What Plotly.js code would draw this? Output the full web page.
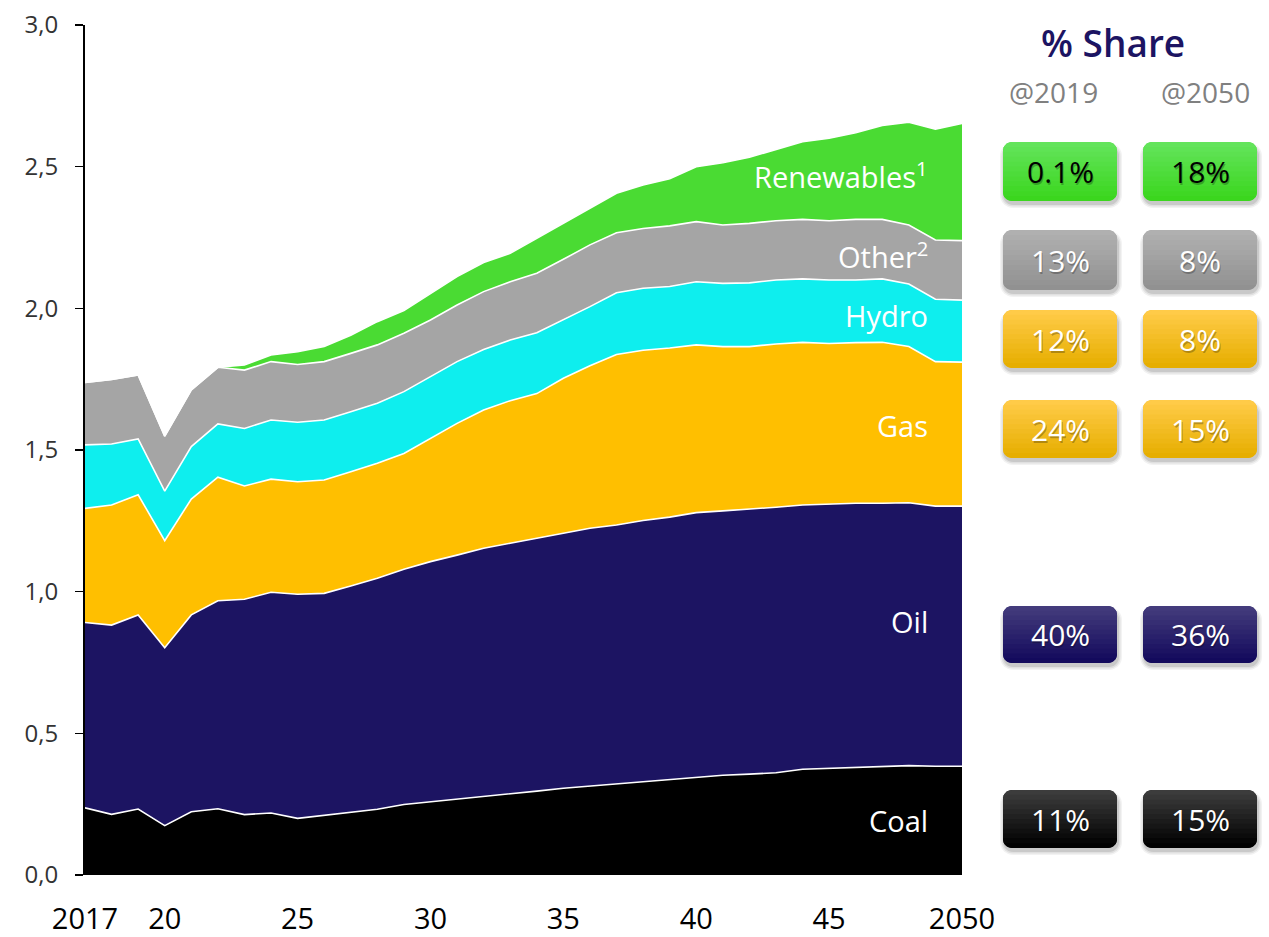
<!DOCTYPE html>
<html>
<head>
<meta charset="utf-8">
<script src="https://cdn.plot.ly/plotly-3.0.1.min.js"></script>
<style>html,body{margin:0;padding:0;background:#fff;}#chart{width:1269px;height:937px;}</style>
</head>
<body>
<div id="chart"></div>
<script>
// ---------- DATA ----------
const years = [2017,2018,2019,2020,2021,2022,2023,2024,2025,2026,2027,2028,2029,2030,2031,2032,2033,2034,2035,2036,2037,2038,2039,2040,2041,2042,2043,2044,2045,2046,2047,2048,2049,2050];
const coal = [0.237,0.214,0.233,0.174,0.223,0.234,0.213,0.219,0.200,0.210,0.220,0.232,0.249,0.258,0.267,0.276,0.286,0.296,0.306,0.314,0.321,0.329,0.338,0.345,0.352,0.356,0.361,0.373,0.376,0.379,0.382,0.386,0.384,0.384];
const oil = [0.654,0.668,0.685,0.628,0.695,0.734,0.760,0.779,0.791,0.784,0.800,0.815,0.830,0.848,0.862,0.877,0.885,0.892,0.900,0.910,0.914,0.922,0.925,0.934,0.933,0.935,0.937,0.933,0.933,0.933,0.930,0.928,0.918,0.918];
const gas = [0.403,0.424,0.424,0.378,0.409,0.436,0.400,0.399,0.397,0.400,0.403,0.406,0.409,0.435,0.465,0.488,0.503,0.511,0.547,0.573,0.602,0.601,0.597,0.592,0.580,0.574,0.576,0.574,0.567,0.567,0.568,0.551,0.510,0.508];
const hydro = [0.224,0.215,0.197,0.175,0.185,0.188,0.203,0.209,0.210,0.212,0.212,0.212,0.218,0.218,0.218,0.214,0.214,0.215,0.206,0.209,0.218,0.219,0.217,0.223,0.223,0.225,0.226,0.224,0.224,0.221,0.224,0.221,0.220,0.219];
const other = [0.220,0.228,0.226,0.194,0.200,0.200,0.206,0.206,0.204,0.206,0.206,0.206,0.206,0.200,0.200,0.204,0.206,0.210,0.214,0.218,0.212,0.211,0.214,0.212,0.206,0.210,0.209,0.210,0.209,0.214,0.210,0.208,0.209,0.210];
const renewables = [0,0,0,0,0,0,0.018,0.023,0.045,0.053,0.064,0.082,0.080,0.094,0.100,0.103,0.100,0.123,0.127,0.129,0.139,0.153,0.166,0.194,0.220,0.233,0.252,0.274,0.291,0.306,0.331,0.363,0.391,0.414];

const xTickVals = [2017,2020,2025,2030,2035,2040,2045,2050];
const xTickText = ['2017','20','25','30','35','40','45','2050'];
const yTickVals = [0,0.5,1,1.5,2,2.5,3];

const seriesNames = ['Coal','Oil','Gas','Hydro','Other','Renewables'];
const seriesLabels = ['Coal','Oil','Gas','Hydro','Other<sup>2</sup>','Renewables<sup>1</sup>'];
const seriesLabelY = [0.194,0.893,1.585,1.973,2.19,2.47];

const share2019 = ['0.1%','13%','12%','24%','40%','11%'];
const share2050 = ['18%','8%','8%','15%','36%','15%'];

// ---------- STYLE ----------
const FONT = 'Open Sans, Lato, sans-serif';
const colors = {Coal:'#000000',Oil:'#1c1462',Gas:'#ffbf00',Hydro:'#0eeeee',Other:'#a5a5a5',Renewables:'#4adb33'};
const values = {Coal:coal,Oil:oil,Gas:gas,Hydro:hydro,Other:other,Renewables:renewables};

const traces = seriesNames.map(n => ({
  type:'scatter', mode:'lines', name:n, x:years, y:values[n],
  stackgroup:'one', fillcolor:colors[n],
  line:{color:'#ffffff', width:1.6, shape:'linear'},
  hoverinfo:'skip'
}));

// plot area in pixels
const L=85, R=962, T=25, B=875, W=1269, H=937;
const pw = R-L, ph = B-T;
const toP = (px,py) => [(px-L)/pw, (B-py)/ph];

function roundedPoly(x0,y0,x1,y1,r){
  const pts=[]; const n=8;
  const corners=[[x1-r,y0+r,-90,0],[x1-r,y1-r,0,90],[x0+r,y1-r,90,180],[x0+r,y0+r,180,270]];
  corners.forEach(c=>{for(let i=0;i<=n;i++){const a=(c[2]+(c[3]-c[2])*i/n)*Math.PI/180;pts.push([c[0]+r*Math.cos(a),c[1]+r*Math.sin(a)]);}});
  return pts;
}
function clipY(poly,yv,keepBelow){
  const out=[]; const inside=p=>keepBelow? p[1]>=yv : p[1]<=yv;
  for(let i=0;i<poly.length;i++){
    const a=poly[i], b=poly[(i+1)%poly.length];
    const ia=inside(a), ib=inside(b);
    if(ia) out.push(a);
    if(ia!==ib){const t=(yv-a[1])/(b[1]-a[1]); out.push([a[0]+t*(b[0]-a[0]),yv]);}
  }
  return out;
}
function pathOf(poly){
  return poly.map((p,i)=>{const q=toP(p[0],p[1]);return (i?'L':'M')+q[0].toFixed(5)+','+q[1].toFixed(5);}).join(' ')+' Z';
}
function hex(c){return [parseInt(c.slice(1,3),16),parseInt(c.slice(3,5),16),parseInt(c.slice(5,7),16)];}
function mix(c1,c2,t){const a=hex(c1),b=hex(c2);return 'rgb('+a.map((v,i)=>Math.round(v+(b[i]-v)*t)).join(',')+')';}

const shapes=[]; const annotations=[];
function box(x0,y0,x1,y1,top,bot,text,tcolor){
  const r=9;
  // soft shadow
  [[4,0.05],[2.5,0.07],[1,0.1]].forEach(s=>{
    shapes.push({type:'path',xref:'paper',yref:'paper',layer:'above',line:{width:0},fillcolor:'rgba(0,0,0,'+s[1]+')',
      path:pathOf(roundedPoly(x0+1-s[0],y0+5-s[0],x1+1+s[0],y1+3+s[0],r+s[0]))});
  });
  const poly=roundedPoly(x0,y0,x1,y1,r);
  shapes.push({type:'path',xref:'paper',yref:'paper',layer:'above',line:{width:0},fillcolor:mix(top,bot,0.55),path:pathOf(poly)});
  const nb=12;
  for(let i=0;i<nb;i++){
    const ya=y0+(y1-y0)*i/nb, yb=Math.min(y1, y0+(y1-y0)*(i+1)/nb + 1.2);
    let p=clipY(poly,ya,true); p=clipY(p,yb,false);
    if(p.length<3) continue;
    shapes.push({type:'path',xref:'paper',yref:'paper',layer:'above',line:{width:0},fillcolor:mix(top,bot,i/(nb-1)),path:pathOf(p)});
  }
  const c=toP((x0+x1)/2,(y0+y1)/2);
  annotations.push({xref:'paper',yref:'paper',x:c[0],y:c[1],xshift:1,yshift:-2,text:text,showarrow:false,xanchor:'center',yanchor:'middle',
    font:{family:FONT,size:30,color:'rgba(0,0,0,0.25)'}});
  annotations.push({xref:'paper',yref:'paper',x:c[0],y:c[1],text:text,showarrow:false,xanchor:'center',yanchor:'middle',
    font:{family:FONT,size:30,color:tcolor}});
}

// share boxes: rows [y0,y1,topColor,bottomColor,textColor], columns x-ranges
const rows=[
  [142,201,'#63e45b','#3bd61e','#000000'],
  [230,290,'#b0b0b0','#919191','#ffffff'],
  [310,368,'#ffcb48','#e6ae00','#ffffff'],
  [400,458,'#ffcb48','#e6ae00','#ffffff'],
  [606,663,'#433b7c','#130a5c','#ffffff'],
  [790,848,'#3c3c3c','#000000','#ffffff']
];
const colA=[1003,1117], colB=[1143,1257];
rows.forEach((rw,i)=>{
  box(colA[0],rw[0],colA[1],rw[1],rw[2],rw[3],share2019[i],rw[4]);
  box(colB[0],rw[0],colB[1],rw[1],rw[2],rw[3],share2050[i],rw[4]);
});

// header texts
annotations.push({xref:'paper',yref:'paper',x:toP(1113,0)[0],y:toP(0,42)[1],text:'% Share',showarrow:false,xanchor:'center',yanchor:'middle',font:{family:FONT,size:37,color:'#1c1462',weight:600}});
annotations.push({xref:'paper',yref:'paper',x:toP(1053,0)[0],y:toP(0,92)[1],text:'@2019',showarrow:false,xanchor:'center',yanchor:'middle',font:{family:FONT,size:28,color:'#808080'}});
annotations.push({xref:'paper',yref:'paper',x:toP(1205,0)[0],y:toP(0,92)[1],text:'@2050',showarrow:false,xanchor:'center',yanchor:'middle',font:{family:FONT,size:28,color:'#808080'}});

// in-chart series labels
seriesNames.forEach((n,i)=>{
  annotations.push({xref:'x',yref:'y',x:2048.8,y:seriesLabelY[i],text:seriesLabels[i],showarrow:false,xanchor:'right',yanchor:'middle',
    font:{family:FONT,size:29,color:'#ffffff'}});
});

const layout={
  width:W,height:H,
  margin:{l:L,r:W-R,t:T,b:H-B,pad:0},
  paper_bgcolor:'#ffffff',plot_bgcolor:'#ffffff',
  showlegend:false,
  separators:',.',
  font:{family:FONT},
  xaxis:{range:[2017,2050],tickvals:xTickVals,ticktext:xTickText,showgrid:false,zeroline:false,showline:false,ticks:'',
    tickfont:{family:FONT,size:29,color:'#000000'},ticklabelstandoff:24,fixedrange:true},
  yaxis:{range:[0,3],tickvals:yTickVals,tickformat:'.1f',showgrid:false,zeroline:false,showline:true,linecolor:'#000000',linewidth:2,
    ticks:'outside',ticklen:8,tickwidth:1.5,tickcolor:'#000000',tickfont:{family:FONT,size:24,color:'#333333'},ticklabelstandoff:12,fixedrange:true},
  shapes:shapes,
  annotations:annotations
};

Plotly.newPlot('chart',traces,layout,{staticPlot:true,displayModeBar:false});
</script>
</body>
</html>
